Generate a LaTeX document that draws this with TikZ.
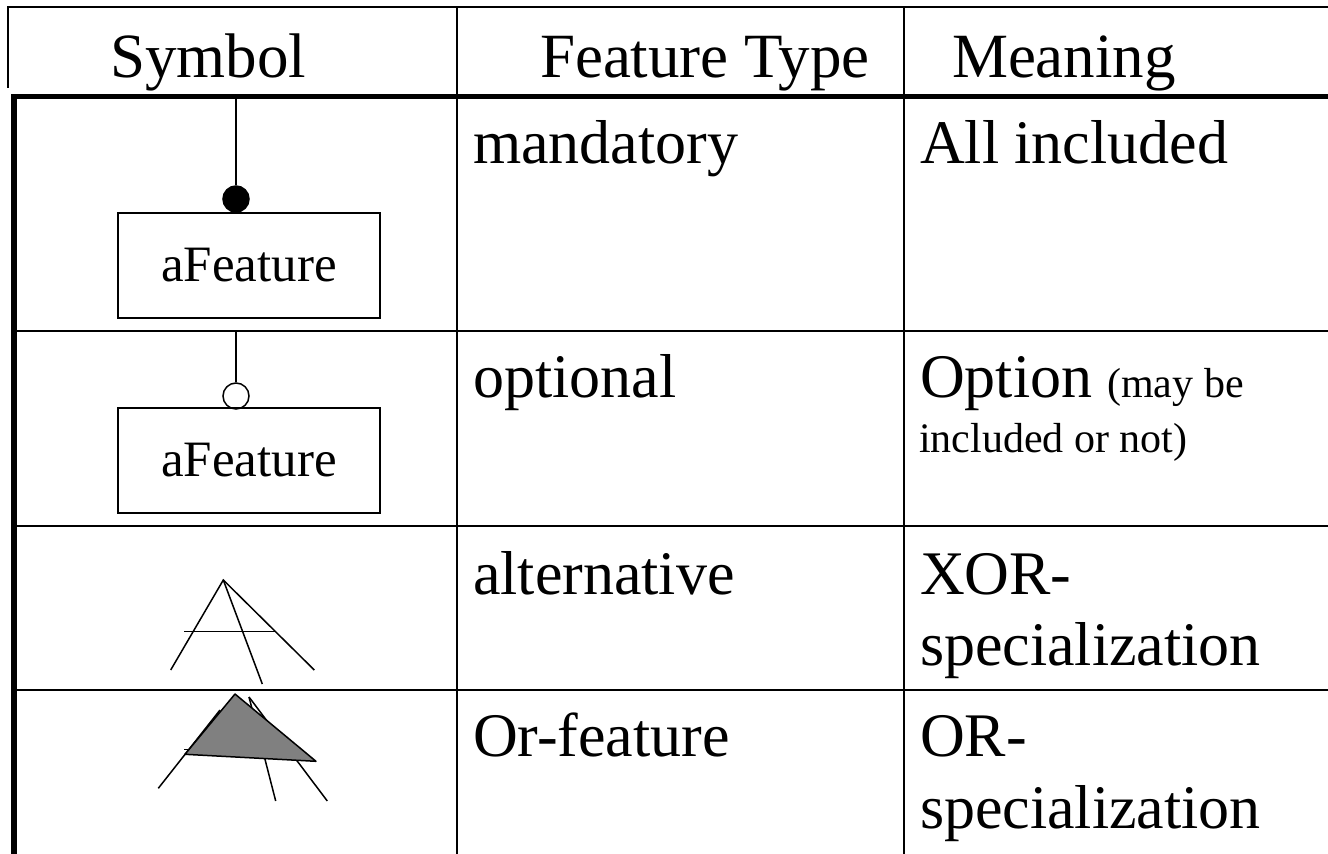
\documentclass[tikz,border=0pt]{standalone}
\usepackage{fontspec}
\setmainfont{Liberation Serif}
\usetikzlibrary{positioning}
\begin{document}
\begin{tikzpicture}[x=1pt,y=-1pt,line cap=rect,
  headtext/.style={inner sep=0, outer sep=0, anchor=base west, font=\fontsize{63pt}{63pt}\selectfont},
  celltext/.style={inner sep=0, outer sep=0, anchor=base west, font=\fontsize{62pt}{62pt}\selectfont},
  smalltext/.style={inner sep=0, outer sep=0, anchor=base west, font=\fontsize{42pt}{42pt}\selectfont},
  featbox/.style={draw, line width=1.5pt, minimum width=262pt, minimum height=105pt, inner sep=0, font=\fontsize{51pt}{51pt}\selectfont},
  featdot/.style={circle, draw, line width=1.5pt, minimum size=26pt, inner sep=0},
  thinrule/.style={line width=2.0pt},
  thickrule/.style={line width=5.5pt},
  symline/.style={line width=1.5pt, line cap=butt}]
\definecolor{custcol_0_0_0}{RGB}{0, 0, 0}
\definecolor{custcol_80_80_80}{RGB}{128, 128, 128}
\useasboundingbox (0.0,0.0) rectangle (1328.0,854.0);
% table rules
\draw [thinrule, custcol_0_0_0 ]  (8.0,87.0) -- (8.0,7.0) -- (1328.0,7.0) ;
\draw [thinrule, custcol_0_0_0 ]  (457.0,7.0) -- (457.0,854.0) ;
\draw [thinrule, custcol_0_0_0 ]  (903.5,7.0) -- (903.5,854.0) ;
\draw [thinrule, custcol_0_0_0 ]  (14.0,331.0) -- (1328.0,331.0) ;
\draw [thinrule, custcol_0_0_0 ]  (14.0,526.0) -- (1328.0,526.0) ;
\draw [thinrule, custcol_0_0_0 ]  (14.0,690.0) -- (1328.0,690.0) ;
\draw [thickrule, custcol_0_0_0 ]  (1328.0,96.5) -- (14.0,96.5) -- (14.0,854.0) ;
% header
\node[headtext] (symhead) at (110.0,77.0) {Symbol};
\node[headtext] (typehead) at (540.0,77.0) {Feature Type};
\node[headtext] (meanhead) at (952.0,77.0) {Meaning};
% mandatory
\coordinate (mandtop) at (236.0,99.0);
\node[featdot, fill=custcol_0_0_0] (manddot) at (236.0,199.0) {};
\node[featbox] (mandbox) at (249.0,265.5) {aFeature};
\draw [symline] (mandtop) -- (manddot) ;
\node[celltext] (mandtype) at (473.0,163.0) {mandatory};
\node[celltext] (mandmean) at (920.0,163.0) {All included};
% optional
\coordinate (opttop) at (236.0,332.0);
\node[featdot, fill=white] (optdot) at (236.0,396.0) {};
\node[featbox] (optbox) at (249.0,460.5) {aFeature};
\draw [symline] (opttop) -- (optdot) ;
\node[celltext] (opttype) at (473.0,397.0) {optional};
\node[celltext] (optmean) at (920.0,397.0) {Option};
\node[smalltext, right=15pt of optmean.base east, anchor=base west] (optnoteA) {(may be};
\node[smalltext] (optnoteB) at (919.0,452.0) {included or not)};
% alternative
\coordinate (altapex) at (223.3,580.0);
\coordinate (altleft) at (170.7,670.0);
\coordinate (altmid) at (262.3,684.0);
\coordinate (altright) at (314.3,670.0);
\coordinate (altbarL) at (184.0,631.7);
\coordinate (altbarR) at (275.7,631.7);
\draw [symline] (altleft) -- (altapex) -- (altright) ;
\draw [symline] (altapex) -- (altmid) ;
\draw [symline] (altbarL) -- (altbarR) ;
\node[celltext] (alttype) at (473.0,594.0) {alternative};
\node[celltext] (altmeanA) at (920.0,594.0) {XOR-};
\node[celltext] (altmeanB) at (920.0,665.0) {specialization};
% or-feature
\coordinate (orapex) at (249.0,697.0);
\coordinate (orleftA) at (158.3,788.3);
\coordinate (orleftB) at (220.0,710.0);
\coordinate (ormid) at (275.7,801.0);
\coordinate (orright) at (327.3,801.0);
\coordinate (orbarL) at (184.0,749.3);
\coordinate (orbarR) at (260.0,749.3);
\draw [symline] (orapex) -- (orright) ;
\draw [symline] (orapex) -- (ormid) ;
\draw [symline] (orleftA) -- (orleftB) ;
\draw [symline] (orbarL) -- (orbarR) ;
\draw [symline, line join=round, fill=custcol_80_80_80 ]  (235.0,694.0) -- (185.0,754.3) -- (316.0,761.3) -- cycle ;
\node[celltext] (ortype) at (473.0,756.0) {Or-feature};
\node[celltext] (ormeanA) at (920.0,756.0) {OR-};
\node[celltext] (ormeanB) at (920.0,828.0) {specialization};
\end{tikzpicture}
\end{document}
